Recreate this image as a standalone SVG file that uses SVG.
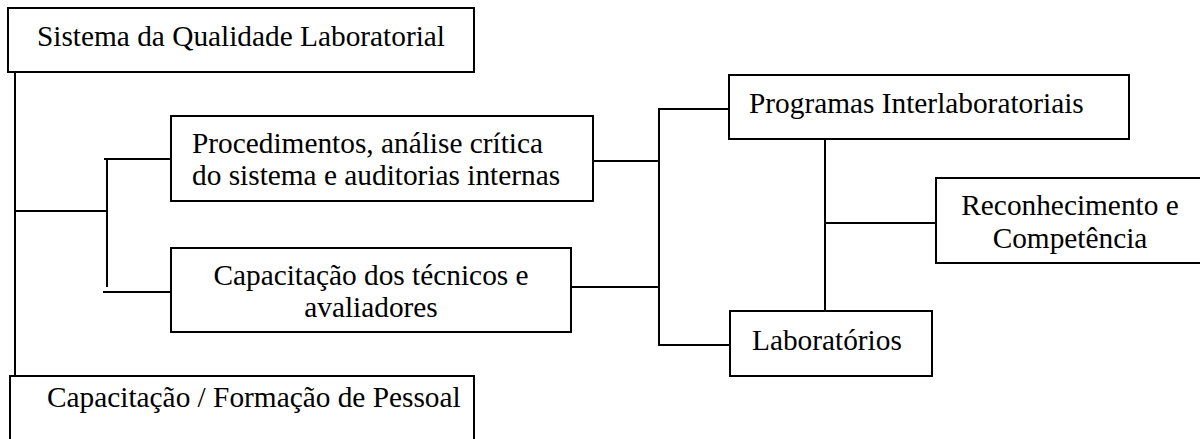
<svg xmlns="http://www.w3.org/2000/svg" width="1200" height="439" viewBox="0 0 1200 439">
  <style>
    .box { fill: #ffffff; stroke: #000000; stroke-width: 2; }
    .lbl { font-family: 'Liberation Serif', 'Times New Roman', Times, 'DejaVu Serif', serif; font-size: 29.33px; fill: #000000; }
    .mid { text-anchor: middle; }
    .wire { fill: none; stroke: #000000; stroke-width: 2; }
  </style>
  <rect width="1200" height="439" fill="#ffffff"/>

  <!-- connectors -->
  <g id="connectors">
    <!-- main spine from the quality system down to staff training -->
    <line class="wire" x1="15" y1="72" x2="15" y2="377"/>
    <line class="wire" x1="15" y1="211" x2="107" y2="211"/>
    <!-- left bracket -->
    <line class="wire" x1="107" y1="159" x2="107" y2="287"/>
    <line class="wire" x1="104" y1="159" x2="171" y2="159"/>
    <line class="wire" x1="103" y1="292" x2="171" y2="292"/>
    <!-- middle bracket -->
    <line class="wire" x1="593" y1="161" x2="659" y2="161"/>
    <line class="wire" x1="571" y1="287" x2="659" y2="287"/>
    <line class="wire" x1="659" y1="108" x2="659" y2="346"/>
    <line class="wire" x1="658" y1="109" x2="729" y2="109"/>
    <line class="wire" x1="658" y1="345" x2="730" y2="345"/>
    <!-- right spine -->
    <line class="wire" x1="825" y1="139" x2="825" y2="311"/>
    <line class="wire" x1="825" y1="223" x2="936" y2="223"/>
  </g>

  <g id="n-sistema">
    <rect class="box" x="8" y="8" width="466" height="64"/>
    <text class="lbl" x="37" y="46" font-family="Liberation Serif, serif">Sistema da Qualidade Laboratorial</text>
  </g>

  <g id="n-procedimentos">
    <rect class="box" x="171" y="116" width="422" height="85"/>
    <text class="lbl" x="192" y="153">Procedimentos, análise crítica</text>
    <text class="lbl" x="192" y="185">do sistema e auditorias internas</text>
  </g>

  <g id="n-capacitacao-tecnicos">
    <rect class="box" x="171" y="248" width="400" height="84"/>
    <text class="lbl mid" x="371" y="285">Capacitação dos técnicos e</text>
    <text class="lbl mid" x="371" y="317">avaliadores</text>
  </g>

  <g id="n-formacao">
    <rect class="box" x="10" y="376" width="464" height="80"/>
    <text class="lbl" x="47" y="407">Capacitação / Formação de Pessoal</text>
  </g>

  <g id="n-programas">
    <rect class="box" x="729" y="75" width="400" height="64"/>
    <text class="lbl" x="749" y="113">Programas Interlaboratoriais</text>
  </g>

  <g id="n-reconhecimento">
    <rect class="box" x="936" y="178" width="275" height="85"/>
    <text class="lbl mid" x="1070" y="215">Reconhecimento e</text>
    <text class="lbl mid" x="1070" y="248">Competência</text>
  </g>

  <g id="n-laboratorios">
    <rect class="box" x="730" y="311" width="202" height="65"/>
    <text class="lbl" x="752" y="350">Laboratórios</text>
  </g>
</svg>
